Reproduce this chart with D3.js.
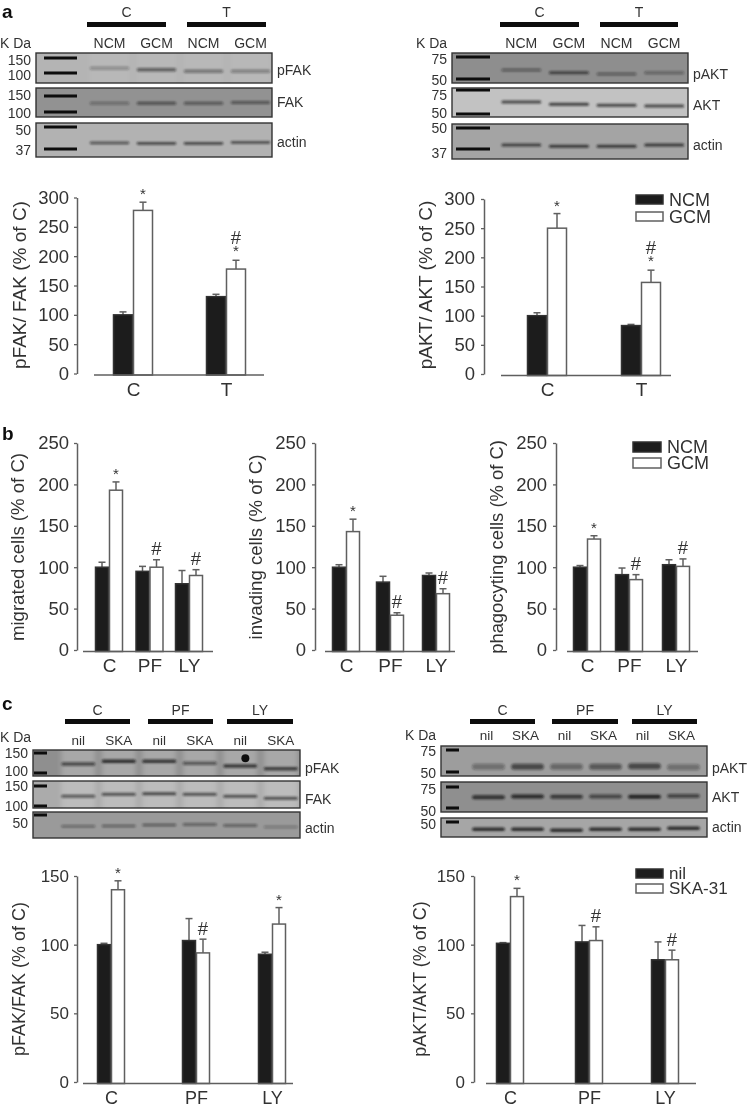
<!DOCTYPE html>
<html><head><meta charset="utf-8">
<script src="https://cdn.jsdelivr.net/npm/d3@7"></script>
<style>
html,body{margin:0;padding:0;background:#fff}
svg{display:block}
text{font-family:"Liberation Sans",Arial,sans-serif;fill:#333}
</style></head><body>
<script>
// ---------- categories and labels ----------
const groupsCT = ["C","T"];
const groupsCPL = ["C","PF","LY"];
const seriesAB = ["NCM","GCM"];
const seriesC = ["nil","SKA-31"];
const lanesAB = ["NCM","GCM","NCM","GCM"];
const lanesC = ["nil","SKA","nil","SKA","nil","SKA"];
const ticks300 = [0,50,100,150,200,250,300];
const ticks250 = [0,50,100,150,200,250];
const ticks150 = [0,50,100,150];

// ---------- bar values: [dark, white] means, upper error limits, significance marks ----------
const pFakMeans = [[100,278],[131,178]];
const pFakTops  = [[105,292],[135,193]];
const pFakMarks = [["","*"],["","#*"]];
const pAktMeans = [[100,250],[83,157]];
const pAktTops  = [[105,275],[85,178]];
const pAktMarks = [["","*"],["","#*"]];
const migratedMeans = [[100,193],[95,100],[80,90]];
const migratedTops  = [[106,203],[101,109],[96,97]];
const migratedMarks = [["","*"],["","#"],["","#"]];
const invadingMeans = [[100,143],[82,42],[90,68]];
const invadingTops  = [[103,158],[89,45],[93,74]];
const invadingMarks = [["","*"],["","#"],["","#"]];
const phagoMeans = [[100,134],[91,85],[103,101]];
const phagoTops  = [[102,138],[99,91],[109,110]];
const phagoMarks = [["","*"],["","#"],["","#"]];
const skaFakMeans = [[100,140],[103,94],[93,115]];
const skaFakTops  = [[101,146.5],[119,104],[94.5,127]];
const skaFakMarks = [["","*"],["","#"],["","*"]];
const skaAktMeans = [[101,135],[102,103],[89,89]];
const skaAktTops  = [[101.5,141],[114,113],[102,96]];
const skaAktMarks = [["","*"],["","#"],["","#"]];

// ---------- blot band positions (apparent kDa per lane) and darkness ----------
const aFakPMw = [114,109,105,105];      const aFakPInk = [.28,.55,.42,.35];
const aFakTMw = [125,125,125,127];      const aFakTInk = [.35,.55,.5,.5];
const aFakAMw = [40.2,40,40,40.5];      const aFakAInk = [.6,.7,.7,.65];
const aAktPMw = [59,56,54.9,56];        const aAktPInk = [.42,.65,.42,.38];
const aAktTMw = [61.2,58.9,58,57.2];    const aAktTInk = [.7,.75,.7,.7];
const aAktAMw = [39.2,38.5,38.5,39.2];  const aAktAInk = [.7,.75,.75,.75];
const cFakPMw = [120,127,127,122,115,109]; const cFakPInk = [.65,.85,.8,.55,.75,.75];
const cFakTMw = [122,127,128,127,122,117]; const cFakTInk = [.6,.65,.7,.65,.65,.65];
const cFakAMw = [44.7,44.8,45.2,45.5,45,44.3]; const cFakAInk = [.4,.45,.5,.5,.5,.3];
const cAktPMw = [55,55,55,55,55.5,54.5]; const cAktPInk = [.35,.6,.4,.5,.6,.35];
const cAktTMw = [61.5,62.5,62,62.5,62,63]; const cAktTInk = [.8,.85,.75,.65,.9,.6];
const cAktAMw = [46.5,46.5,46,46.5,46.5,47]; const cAktAInk = [.85,.85,.85,.85,.85,.85];

const W = 747, H = 1107;
const svg = d3.select("body").append("svg").attr("width",W).attr("height",H);
const defs = svg.append("defs");
defs.append("filter").attr("id","soft")
  .attr("filterUnits","userSpaceOnUse").attr("x",0).attr("y",0).attr("width",W).attr("height",H)
  .append("feGaussianBlur").attr("stdDeviation",0.6);
defs.append("filter").attr("id","bandBlur")
  .attr("filterUnits","userSpaceOnUse").attr("x",0).attr("y",0).attr("width",W).attr("height",H)
  .append("feGaussianBlur").attr("stdDeviation",1.1);
defs.append("filter").attr("id","glowBlur")
  .attr("filterUnits","userSpaceOnUse").attr("x",0).attr("y",0).attr("width",W).attr("height",H)
  .append("feGaussianBlur").attr("stdDeviation",2.5);
const root = svg.append("g").attr("filter","url(#soft)");
const DARK="#1b1b1b", LINE="#5f5f5f";

function label(g,x,y,t,size,anchor){
  return g.append("text").attr("x",x).attr("y",y).attr("font-size",size)
    .attr("text-anchor",anchor||"start").attr("dominant-baseline","central").text(t);
}
[["a",17.5],["b",440],["c",710]].forEach(([t,y])=>
  root.append("text").attr("x",2).attr("y",y).attr("font-size",19).attr("font-weight","bold").style("fill","#111").text(t));

// ---------- bar panels ----------
function barPanel(p){
  const g=root.append("g");
  const y=d3.scaleLinear().domain(p.domain).range(p.yRange);
  const x=d3.scaleOrdinal(p.groups,p.centers);
  const sub=d3.scaleBand().domain([0,1]).range([-p.barW,p.barW]);
  const base=p.yRange[0]+1.5;
  const axisY=g.append("g").attr("transform",`translate(${p.axisX},0)`)
    .call(d3.axisLeft(y).tickValues(p.ticks).tickSize(3).tickSizeOuter(0).tickPadding(p.tickPad||5).tickFormat(d3.format("d")));
  axisY.select(".domain").attr("stroke",LINE).attr("stroke-width",1.5);
  axisY.selectAll(".tick line").attr("stroke",LINE).attr("stroke-width",1.3);
  axisY.selectAll("text").attr("font-size",p.tickFont).style("fill","#333");
  const axisX=g.append("g").attr("transform",`translate(0,${base+p.catDy})`)
    .call(d3.axisBottom(x).tickSize(0).tickPadding(0));
  axisX.select(".domain").remove();
  axisX.selectAll("text").attr("font-size",p.catFont).style("fill","#333").attr("dy","0.32em").attr("y",0);

  const rows=p.groups.flatMap((c,i)=>[0,1].map(s=>({c,s,v:p.means[i][s],top:p.tops[i][s],mark:p.marks[i][s]})));
  const eg=g.selectAll(".e").data(rows).join("g");
  const mid=d=>x(d.c)+sub(d.s)+p.barW/2;
  eg.append("line").attr("x1",mid).attr("x2",mid)
    .attr("y1",d=>y(d.v)).attr("y2",d=>y(d.top)).attr("stroke",LINE).attr("stroke-width",1.5);
  eg.append("line").attr("x1",d=>mid(d)-3.5).attr("x2",d=>mid(d)+3.5)
    .attr("y1",d=>y(d.top)).attr("y2",d=>y(d.top)).attr("stroke",LINE).attr("stroke-width",1.5);
  g.selectAll(".b").data(rows).join("rect")
    .attr("x",d=>x(d.c)+sub(d.s)+.5).attr("width",p.barW-1)
    .attr("y",d=>y(d.v)).attr("height",d=>base-y(d.v))
    .attr("fill",d=>d.s?"#fff":DARK).attr("stroke",d=>d.s?LINE:"#333").attr("stroke-width",1.5);
  g.append("line").attr("x1",p.baseX[0]).attr("x2",p.baseX[1]).attr("y1",base).attr("y2",base)
    .attr("stroke",LINE).attr("stroke-width",1.6);
  rows.filter(d=>d.mark).forEach(d=>{
    const cx=mid(d), t=y(d.top);
    const star=(dy)=>g.append("text").attr("x",cx).attr("y",t-dy+5).attr("text-anchor","middle").attr("font-size",15).text("*");
    const hash=(dy)=>g.append("text").attr("x",cx).attr("y",t-dy+6.5).attr("text-anchor","middle").attr("font-size",18.5).text("#");
    if(d.mark==="#*"){ star(9); hash(23); }
    else if(d.mark==="*") star(8);
    else hash(11);
  });
  g.append("text").attr("transform",`translate(${p.titleX},${p.titleY}) rotate(-90)`)
    .attr("text-anchor","middle").attr("dominant-baseline","central").attr("font-size",p.titleFont).text(p.title);
  if(p.legend){
    const L=p.legend;
    L.names.forEach((n,i)=>{
      g.append("rect").attr("x",L.x).attr("width",L.w).attr("y",L.ys[i]).attr("height",L.h)
        .attr("fill",i?"#fff":DARK).attr("stroke",i?LINE:"#333").attr("stroke-width",1.5);
      label(g,L.x+L.w+6,L.ys[i]+L.h/2,n,L.font);
    });
  }
}
const cat=19;
barPanel({groups:groupsCT,centers:[133,226],means:pFakMeans,tops:pFakTops,marks:pFakMarks,barW:20,domain:[0,300],yRange:[373.5,197.5],ticks:ticks300,
  axisX:77,baseX:[94,264],tickFont:18.5,catFont:cat,catDy:14.5,title:"pFAK/ FAK (% of C)",titleX:19,titleY:285,titleFont:19});
barPanel({groups:groupsCT,centers:[547,641],means:pAktMeans,tops:pAktTops,marks:pAktMarks,barW:20,domain:[0,300],yRange:[374,199],ticks:ticks300,
  axisX:484,baseX:[501,671],tickFont:18.5,catFont:cat,catDy:14.5,tickPad:6,title:"pAKT/ AKT (% of C)",titleX:425,titleY:285,titleFont:19,
  legend:{names:seriesAB,x:636,w:27,h:9,ys:[195,212],font:18}});
barPanel({groups:groupsCPL,centers:[109,149.5,189],means:migratedMeans,tops:migratedTops,marks:migratedMarks,barW:14,domain:[0,250],yRange:[650,443],ticks:ticks250,
  axisX:77,baseX:[83,213],tickFont:18.5,catFont:cat,catDy:14.5,title:"migrated cells (% of C)",titleX:17,titleY:547,titleFont:18.6});
barPanel({groups:groupsCPL,centers:[346,390,436],means:invadingMeans,tops:invadingTops,marks:invadingMarks,barW:14,domain:[0,250],yRange:[650,443],ticks:ticks250,
  axisX:315,baseX:[325,455],tickFont:18.5,catFont:cat,catDy:14.5,tickPad:6,title:"invading cells (% of C)",titleX:255,titleY:547,titleFont:18.6});
barPanel({groups:groupsCPL,centers:[587,629,676],means:phagoMeans,tops:phagoTops,marks:phagoMarks,barW:14,domain:[0,250],yRange:[650,443],ticks:ticks250,
  axisX:556,baseX:[567,698],tickFont:18.5,catFont:cat,catDy:14.5,tickPad:6,title:"phagocyting cells (% of C)",titleX:496,titleY:547,titleFont:18.4,
  legend:{names:seriesAB,x:633,w:28,h:10,ys:[442,458],font:18}});
barPanel({groups:groupsCPL,centers:[111,196,272],means:skaFakMeans,tops:skaFakTops,marks:skaFakMarks,barW:14,domain:[0,150],yRange:[1082,876],ticks:ticks150,
  axisX:77,baseX:[83,293],tickFont:17,catFont:18,catDy:14.5,title:"pFAK/FAK (% of C)",titleX:19,titleY:979,titleFont:18});
barPanel({groups:groupsCPL,centers:[510,589,665],means:skaAktMeans,tops:skaAktTops,marks:skaAktMarks,barW:14,domain:[0,150],yRange:[1082,876],ticks:ticks150,
  axisX:474,baseX:[486,696],tickFont:17,catFont:18,catDy:14.5,tickPad:6,title:"pAKT/AKT (% of C)",titleX:420,titleY:979,titleFont:18,
  legend:{names:seriesC,x:636,w:27,h:9,ys:[869,884],font:17}});

// ---------- western blot panels ----------
function blotGroup(b){
  const g=root.append("g");
  const lane=d3.scaleBand().domain(d3.range(b.lanes.length)).range(b.laneRange).paddingInner(.16).paddingOuter(.08);
  b.headers.forEach(h=>{
    g.append("rect").attr("x",h.x[0]).attr("y",b.barY).attr("width",h.x[1]-h.x[0]).attr("height",b.barH).attr("fill","#0a0a0a");
    label(g,(h.x[0]+h.x[1])/2,b.headY,h.t,14,"middle");
  });
  b.lanes.forEach((t,i)=>label(g,lane(i)+lane.bandwidth()/2-(b.subDx||0),b.subY,t,b.subFont||14,"middle"));
  label(g,b.kdaX,b.kdaY,"K Da",14);
  b.blots.forEach((r,ri)=>{
    const w=g.append("g");
    const cid=`clip${b.id}${ri}`;
    defs.append("clipPath").attr("id",cid).append("rect")
      .attr("x",b.blotX[0]).attr("y",r.y[0]).attr("width",b.blotX[1]-b.blotX[0]).attr("height",r.y[1]-r.y[0]);
    w.append("rect").attr("x",b.blotX[0]).attr("y",r.y[0]).attr("width",b.blotX[1]-b.blotX[0]).attr("height",r.y[1]-r.y[0])
      .attr("fill",r.fill);
    if(r.glow){
      const gl=w.append("g").attr("clip-path",`url(#${cid})`).append("g").attr("filter","url(#glowBlur)");
      d3.range(b.lanes.length).forEach(i=>gl.append("rect").attr("x",lane(i)).attr("width",lane.bandwidth())
        .attr("y",r.y[0]-4).attr("height",r.y[1]-r.y[0]+8).attr("fill","#fff").attr("opacity",r.glow));
    }
    const mw=d3.scaleLog().domain(r.mwDomain).range(r.mwRange);
    const inner=w.append("g").attr("filter","url(#bandBlur)");
    r.bandMw.forEach((m,i)=>inner.append("rect").attr("x",lane(i)).attr("width",lane.bandwidth())
      .attr("y",mw(m)-r.th/2).attr("height",r.th).attr("rx",r.th/2).attr("fill","#181818").attr("opacity",r.ink[i]));
    (r.spots||[]).forEach(s=>w.append("circle").attr("cx",lane(s.lane)+lane.bandwidth()*s.at).attr("cy",mw(s.mw)).attr("r",4).attr("fill","#111"));
    r.mwLabels.forEach((m,i)=>{
      w.append("rect").attr("x",b.markX[0]).attr("width",b.markX[1]-b.markX[0]).attr("y",mw(m)-1.5).attr("height",3).attr("fill","#0a0a0a");
      label(g,b.blotX[0]-5,r.labelYs[i],String(m),14,"end");
    });
    w.append("rect").attr("x",b.blotX[0]).attr("y",r.y[0]).attr("width",b.blotX[1]-b.blotX[0]).attr("height",r.y[1]-r.y[0])
      .attr("fill","none").attr("stroke","#333").attr("stroke-width",1.4);
    label(g,b.blotX[1]+5,r.labelY,r.label,14);
  });
}
blotGroup({id:"a",lanes:lanesAB,laneRange:[86,274],headers:[{t:groupsCT[0],x:[87,166]},{t:groupsCT[1],x:[187,266]}],barY:22,barH:5,headY:12,subY:43,kdaX:0,kdaY:43,
  blotX:[36,272],markX:[44,77],blots:[
  {y:[53,83],fill:"#b4b4b4",glow:.06,mwDomain:[150,100],mwRange:[58,73],mwLabels:[150,100],labelYs:[60,75],bandMw:aFakPMw,ink:aFakPInk,th:3.5,label:"pFAK",labelY:70},
  {y:[88,117],fill:"#929292",mwDomain:[150,100],mwRange:[96,112],mwLabels:[150,100],labelYs:[95,113],bandMw:aFakTMw,ink:aFakTInk,th:3,label:"FAK",labelY:102},
  {y:[123,157],fill:"#b2b2b2",mwDomain:[50,37],mwRange:[127,149],mwLabels:[50,37],labelYs:[130,150],bandMw:aFakAMw,ink:aFakAInk,th:2.8,label:"actin",labelY:142}]});
blotGroup({id:"b",lanes:lanesAB,laneRange:[497.5,688],headers:[{t:groupsCT[0],x:[500,579]},{t:groupsCT[1],x:[600,678]}],barY:22,barH:5,headY:12,subY:43,kdaX:416,kdaY:43,
  blotX:[452,688],markX:[456,490],blots:[
  {y:[53,83],fill:"#8e8e8e",mwDomain:[75,50],mwRange:[57,79],mwLabels:[75,50],labelYs:[59,80],bandMw:aAktPMw,ink:aAktPInk,th:3,label:"pAKT",labelY:74},
  {y:[88,117],fill:"#c2c2c2",mwDomain:[75,50],mwRange:[90,114],mwLabels:[75,50],labelYs:[95,113],bandMw:aAktTMw,ink:aAktTInk,th:3,label:"AKT",labelY:105},
  {y:[124,159],fill:"#a4a4a4",mwDomain:[50,37],mwRange:[128,149],mwLabels:[50,37],labelYs:[128,153],bandMw:aAktAMw,ink:aAktAInk,th:3,label:"actin",labelY:145}]});
blotGroup({id:"c",lanes:lanesC,laneRange:[58,301],headers:[{t:groupsCPL[0],x:[65,130]},{t:groupsCPL[1],x:[148,213]},{t:groupsCPL[2],x:[227,293]}],barY:719,barH:5,headY:710,subY:740,subFont:13.5,kdaX:0,kdaY:737,
  blotX:[33,300],markX:[34,47],blots:[
  {y:[750,776],fill:"#8f8f8f",glow:.22,mwDomain:[150,100],mwRange:[753,773],mwLabels:[150,100],labelYs:[753,771],bandMw:cFakPMw,ink:cFakPInk,th:3.5,label:"pFAK",labelY:768,spots:[{lane:4,at:.65,mw:135}]},
  {y:[781,808],fill:"#ababab",glow:.2,mwDomain:[150,100],mwRange:[786,806],mwLabels:[150,100],labelYs:[786,806],bandMw:cFakTMw,ink:cFakTInk,th:3,label:"FAK",labelY:799},
  {y:[812,838],fill:"#9a9a9a",mwDomain:[50,37],mwRange:[815,845],mwLabels:[50],labelYs:[823],bandMw:cFakAMw,ink:cFakAInk,th:2.5,label:"actin",labelY:828}]});
blotGroup({id:"d",lanes:lanesC,laneRange:[469,703],headers:[{t:groupsCPL[0],x:[470,535]},{t:groupsCPL[1],x:[552,618]},{t:groupsCPL[2],x:[632,697]}],barY:719,barH:5,headY:710,subY:735,subFont:13.5,subDx:2,kdaX:405,kdaY:735,
  blotX:[441,707],markX:[446,459],blots:[
  {y:[746,776],fill:"#9d9d9d",mwDomain:[75,50],mwRange:[750,772],mwLabels:[75,50],labelYs:[751,773],bandMw:cAktPMw,ink:cAktPInk,th:6,label:"pAKT",labelY:768},
  {y:[782,812],fill:"#8f8f8f",mwDomain:[75,50],mwRange:[787,808],mwLabels:[75,50],labelYs:[789,811],bandMw:cAktTMw,ink:cAktTInk,th:4,label:"AKT",labelY:797},
  {y:[818,837],fill:"#a6a6a6",mwDomain:[50,37],mwRange:[822,852],mwLabels:[50],labelYs:[824],bandMw:cAktAMw,ink:cAktAInk,th:3.5,label:"actin",labelY:827}]});
</script>
</body></html>
